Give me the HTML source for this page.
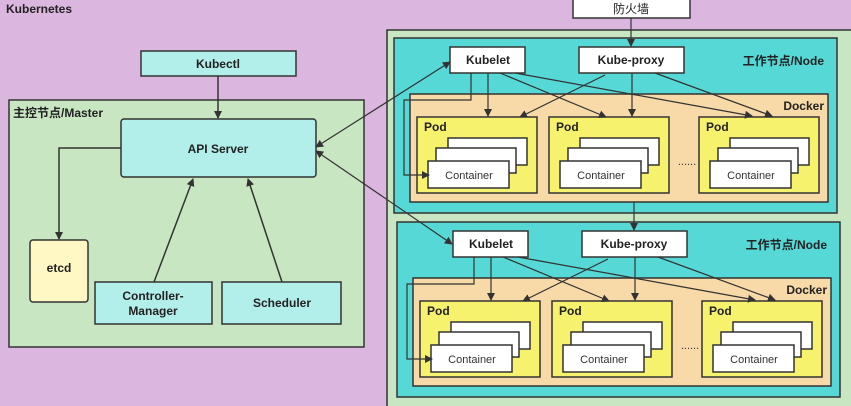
<!DOCTYPE html>
<html><head><meta charset="utf-8"><style>
body{margin:0;background:#dbb7df;}
svg{display:block;font-family:"Liberation Sans","Noto Sans CJK SC",sans-serif;}
.b{font-weight:bold;fill:#222;}
</style></head><body>
<svg width="851" height="406" viewBox="0 0 851 406" xmlns="http://www.w3.org/2000/svg">
<defs><marker id="a" markerWidth="8" markerHeight="8" refX="7" refY="4" orient="auto" markerUnits="userSpaceOnUse"><path d="M0,0 L8,4 L0,8 z" fill="#333"/></marker>
<marker id="s" markerWidth="8" markerHeight="8" refX="1" refY="4" orient="auto" markerUnits="userSpaceOnUse"><path d="M8,0 L0,4 L8,8 z" fill="#333"/></marker></defs>
<rect width="851" height="406" fill="#dbb7df"/>
<text x="6" y="13" class="b" font-size="12" fill="#444">Kubernetes</text>
<!-- master -->
<rect x="9" y="100" width="355" height="247" fill="#c9e6c2" stroke="#333" stroke-width="1.5"/>
<text x="13" y="117" class="b" font-size="12">主控节点/Master</text>
<rect x="141" y="51" width="155" height="25" fill="#b3efea" stroke="#333" stroke-width="1.5"/>
<text x="218" y="68" class="b" font-size="12" text-anchor="middle">Kubectl</text>
<rect x="121" y="119" width="195" height="58" rx="3" fill="#b3efea" stroke="#333" stroke-width="1.5"/>
<text x="218" y="153" class="b" font-size="12" text-anchor="middle">API Server</text>
<rect x="30" y="240" width="58" height="62" rx="3" fill="#fff8c4" stroke="#333" stroke-width="1.5"/>
<text x="59" y="272" class="b" font-size="12" text-anchor="middle">etcd</text>
<rect x="95" y="282" width="117" height="42" fill="#b3efea" stroke="#333" stroke-width="1.5"/>
<text x="153" y="300" class="b" font-size="12" text-anchor="middle">Controller-</text>
<text x="153" y="315" class="b" font-size="12" text-anchor="middle">Manager</text>
<rect x="222" y="282" width="119" height="42" fill="#b3efea" stroke="#333" stroke-width="1.5"/>
<text x="282" y="307" class="b" font-size="12" text-anchor="middle">Scheduler</text>
<g stroke="#333" stroke-width="1.5" fill="none">
<line x1="218" y1="76" x2="218" y2="118" marker-end="url(#a)"/>
<polyline points="121,148 59,148 59,239" marker-end="url(#a)"/>
<line x1="154" y1="282" x2="193" y2="179" marker-end="url(#a)"/>
<line x1="282" y1="282" x2="248" y2="179" marker-end="url(#a)"/>
</g>
<!-- nodes outer -->
<rect x="387" y="30" width="470" height="380" fill="#c9e6c2" stroke="#333" stroke-width="1.5"/>
<rect x="573" y="-2" width="117" height="20" fill="#fff" stroke="#333" stroke-width="1.5"/>
<text x="631" y="13" font-size="12" text-anchor="middle" fill="#222">防火墙</text>
<g id="n1">
<rect x="394" y="38" width="443" height="175" fill="#56d9d6" stroke="#333" stroke-width="1.5"/>
<text x="824" y="65" class="b" font-size="12" text-anchor="end" fill="#333">工作节点/Node</text>
<rect x="410" y="94" width="418" height="108" fill="#f8d9a8" stroke="#333" stroke-width="1.5"/>
<text x="824" y="110" class="b" font-size="12" text-anchor="end">Docker</text>
<rect x="450" y="47" width="75" height="26" fill="#fff" stroke="#333" stroke-width="1.5"/>
<text x="488" y="64" class="b" font-size="12" text-anchor="middle">Kubelet</text>
<rect x="579" y="47" width="105" height="26" fill="#fff" stroke="#333" stroke-width="1.5"/>
<text x="631" y="64" class="b" font-size="12" text-anchor="middle">Kube-proxy</text>
<g id="pods">
<g id="p"><rect x="417" y="117" width="120" height="76" fill="#f7f26d" stroke="#333" stroke-width="1.5"/>
<text x="424" y="131" class="b" font-size="12">Pod</text>
<rect x="448" y="138" width="79" height="27" fill="#fff" stroke="#333" stroke-width="1.5"/>
<rect x="436" y="148" width="80" height="25" fill="#fff" stroke="#333" stroke-width="1.5"/>
<rect x="428" y="161" width="81" height="27" fill="#fff" stroke="#333" stroke-width="1.5"/>
<text x="469" y="179" font-size="11" text-anchor="middle" fill="#333">Container</text></g>
<use href="#p" x="132"/>
<use href="#p" x="282"/>
<text x="687" y="165" font-size="11" text-anchor="middle" fill="#333">......</text>
</g>
<g stroke="#333" stroke-width="1.2" fill="none">
<line x1="631" y1="18" x2="631" y2="46" marker-end="url(#a)"/>
<line x1="488" y1="73" x2="488" y2="116" marker-end="url(#a)"/>
<line x1="500" y1="73" x2="606" y2="117" marker-end="url(#a)"/>
<line x1="515" y1="73" x2="752" y2="116" marker-end="url(#a)"/>
<polyline points="471,73 471,100 404,100 404,175 429,175" marker-end="url(#a)"/>
<line x1="632" y1="73" x2="632" y2="116" marker-end="url(#a)"/>
<line x1="605" y1="75" x2="520" y2="117" marker-end="url(#a)"/>
<line x1="655" y1="73" x2="772" y2="116" marker-end="url(#a)"/>
</g>
</g>
<g transform="translate(3,184)">
<use href="#n1"/>
</g>
<rect x="0" y="0" width="0" height="0"/>
<g stroke="#333" stroke-width="1.2" fill="none">
<line x1="316" y1="147" x2="450" y2="62" marker-start="url(#s)" marker-end="url(#a)"/>
<line x1="316" y1="151" x2="452" y2="244" marker-start="url(#s)" marker-end="url(#a)"/>
</g>
</svg>
</body></html>
